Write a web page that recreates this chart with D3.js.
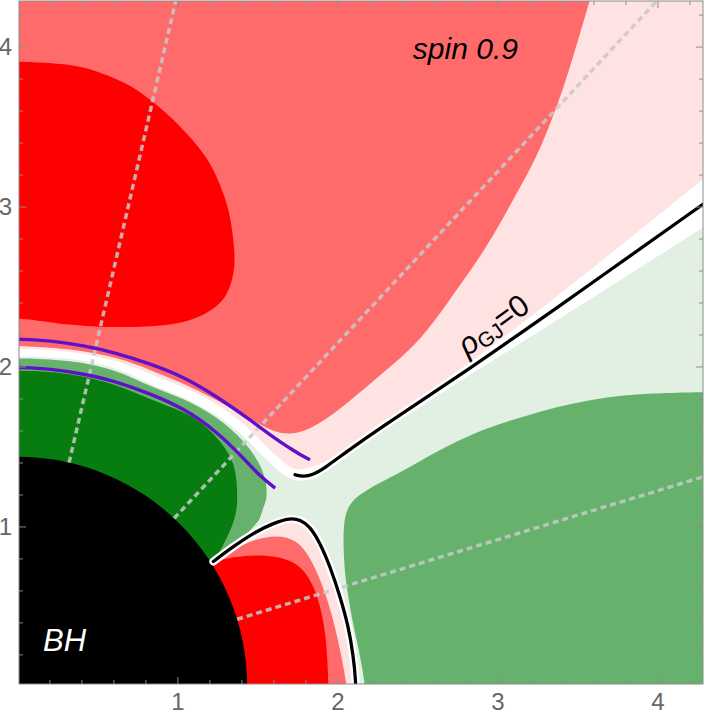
<!DOCTYPE html>
<html lang="en">
<head>
  <meta charset="utf-8">
  <title>rho GJ, spin 0.9</title>
  <script src="https://cdn.jsdelivr.net/npm/d3@7"></script>
  <style>
    * { margin: 0; padding: 0; }
    body { background: #fff; }
    text { font-family: "Liberation Sans", Arial, sans-serif; }
  </style>
</head>
<body>
  <div id="chart"></div>
  <script>
    // plot units: x = r sin(theta), y = r cos(theta)
    var spin = 0.9;
    var horizonR = 1.436;
    var guideAngles = [13, 43, 73];   // dashed radial guides, degrees from the spin axis
    var majorTicks = [1, 2, 3, 4];
    var minorTicks = [0.2, 0.4, 0.6, 0.8, 1.2, 1.4, 1.6, 1.8, 2.2, 2.4, 2.6, 2.8, 3.2, 3.4, 3.6, 3.8, 4.2];

    // outlines
    var redTop = [[-0.1,3.906],[0.0125,3.906],[0.309,3.896],[0.517,3.844],[0.725,3.75],[0.829,3.667],[0.934,3.584],[1.059,3.459],[1.184,3.3125],[1.267,3.146],[1.329,2.959],[1.35,2.792],[1.361,2.667],[1.35,2.5625],[1.309,2.4375],[1.225,2.354],[1.1,2.292],[0.934,2.254],[0.725,2.246],[0.517,2.246],[0.309,2.261],[0.1,2.292],[0.0125,2.298],[-0.1,2.298]];
    var pinkTop = [[3.62,4.45],[3.579,4.292],[3.517,4.086],[3.436,3.811],[3.348,3.561],[3.248,3.311],[3.098,3.042],[2.936,2.748],[2.767,2.511],[2.517,2.15],[2.267,1.948],[2.017,1.729],[1.829,1.604],[1.704,1.573],[1.6,1.59],[1.454,1.673],[1.246,1.792],[1.0375,1.896],[0.829,1.979],[0.621,2.061],[0.309,2.114],[0.0125,2.129],[-0.1,2.13]];
    var whiteTop = [[-0.1,2.111],[0.0125,2.111],[0.309,2.101],[0.621,2.042],[0.829,1.9525],[1.0375,1.875],[1.246,1.771],[1.4125,1.646],[1.517,1.542],[1.621,1.4375],[1.704,1.365],[1.767,1.348],[1.923,1.395],[2.048,1.486],[2.267,1.645],[2.679,1.911],[3.329,2.398],[4.294,3.178],[4.45,3.303]];
    var whiteBottom = [[4.45,2.974],[4.294,2.875],[3.329,2.261],[2.679,1.854],[2.267,1.586],[2.048,1.429],[1.923,1.336],[1.798,1.279],[1.704,1.292],[1.621,1.354],[1.5375,1.4375],[1.454,1.521],[1.371,1.604],[1.246,1.698],[1.0375,1.8125],[0.829,1.886],[0.621,1.998],[0.309,2.0575],[0.0125,2.0625],[-0.1,2.0625]];
    var greenBand = [[-0.1,2.051],[0.0125,2.051],[0.309,2.042],[0.621,1.9825],[0.829,1.873],[1.0375,1.8025],[1.246,1.6875],[1.4125,1.542],[1.517,1.396],[1.559,1.271],[1.559,1.167],[1.5375,1.125],[1.517,1.042],[1.475,1.0],[1.4125,0.929],[1.35,0.879],[1.225,0.775]];
    var darkGreen = [[-0.1,1.975],[0.0125,1.975],[0.309,1.9625],[0.621,1.89],[0.829,1.792],[1.0375,1.719],[1.142,1.656],[1.246,1.5625],[1.35,1.417],[1.371,1.292],[1.376,1.167],[1.367,1.073],[1.329,0.967],[1.279,0.867],[1.225,0.775]];
    var greenRight = [[2.177,-0.1],[2.173,0.021],[2.13,0.25],[2.1,0.375],[2.07,0.55],[2.048,0.6875],[2.038,0.85],[2.0375,1.0],[2.055,1.1],[2.1,1.17],[2.184,1.229],[2.3,1.29],[2.434,1.36],[2.642,1.48],[2.85,1.584],[3.059,1.656],[3.267,1.719],[3.475,1.771],[3.684,1.809],[3.892,1.8275],[4.1,1.8375],[4.45,1.84]];
    var zeroLower = [[1.225,0.781],[1.35,0.875],[1.475,0.959],[1.6,1.021],[1.704,1.053],[1.767,1.042],[1.829,1.0],[1.892,0.896],[1.954,0.75],[2.017,0.5625],[2.069,0.375],[2.1,0.1875],[2.115,0.031],[2.117,-0.1]];
    var pinkPocket = [[1.225,0.781],[1.454,0.917],[1.621,0.948],[1.746,0.917],[1.829,0.8125],[1.9125,0.625],[1.975,0.417],[2.017,0.229],[2.059,0.017],[2.062,-0.1]];
    var redPocket = [[1.225,0.779],[1.35,0.81],[1.496,0.823],[1.621,0.8125],[1.725,0.781],[1.809,0.709],[1.871,0.584],[1.9125,0.417],[1.934,0.25],[1.944,0.017],[1.945,-0.1]];
    var zeroUpper = [[1.7356,1.3231],[1.786,1.311],[1.8419,1.32],[1.9231,1.3669],[2.0481,1.4606],[2.2669,1.6169],[2.6794,1.8856],[3.3294,2.3356],[4.2938,3.0213],[4.45,3.13]];
    var purpleUpper = [[-0.05,2.172],[0.0125,2.171],[0.204,2.1625],[0.4125,2.131],[0.621,2.084],[0.829,2.017],[1.0375,1.9375],[1.246,1.8125],[1.454,1.667],[1.621,1.542],[1.704,1.489],[1.767,1.448],[1.829,1.417]];
    var purpleLower = [[-0.05,1.995],[0.0125,1.994],[0.204,1.986],[0.4125,1.954],[0.621,1.906],[0.829,1.829],[1.0375,1.74],[1.246,1.594],[1.4125,1.4275],[1.517,1.3125],[1.611,1.24]];

    var width = 706, height = 720;
    var x = d3.scaleLinear().domain([0.01, 4.285]).range([19, 703]);
    var y = d3.scaleLinear().domain([0.015, 4.285]).range([684, 1]);

    var svg = d3.select("#chart").append("svg")
        .attr("width", width)
        .attr("height", height);

    svg.append("clipPath").attr("id", "plot-clip")
      .append("rect")
        .attr("x", x(0.01)).attr("y", y(4.285))
        .attr("width", x(4.285) - x(0.01)).attr("height", y(0.015) - y(4.285));

    var plot = svg.append("g").attr("clip-path", "url(#plot-clip)");

    var smooth = d3.line()
        .x(function(d) { return x(d[0]); })
        .y(function(d) { return y(d[1]); })
        .curve(d3.curveBasis);

    // smooth outline, then straight runs through corners outside the frame / inside the hole
    function region(outline, corners) {
      var p = smooth(outline);
      corners.forEach(function(c) { p += "L" + x(c[0]) + "," + y(c[1]); });
      return p + "Z";
    }

    plot.append("rect")
        .attr("x", 0).attr("y", 0).attr("width", width).attr("height", height)
        .attr("fill", "#e1f0e2");

    plot.append("path").attr("d", region(whiteTop, [[4.45, 4.45], [-0.1, 4.45]])).attr("fill", "#ffe2e2");
    plot.append("path").attr("d", smooth(whiteTop) + smooth(whiteBottom).replace("M", "L") + "Z").attr("fill", "#ffffff");
    plot.append("path").attr("d", region(pinkTop, [[-0.1, 4.45]])).attr("fill", "#ff6b6b");
    plot.append("path").attr("d", region(redTop, [])).attr("fill", "#ff0000");
    plot.append("path").attr("d", region(greenBand, [[0, 0], [-0.1, 0]])).attr("fill", "#66b26c");
    plot.append("path").attr("d", region(darkGreen, [[0, 0], [-0.1, 0]])).attr("fill", "#077d0f");
    plot.append("path").attr("d", region(greenRight, [[4.45, -0.1]])).attr("fill", "#66b26c");
    plot.append("path").attr("d", region(zeroLower, [[0, -0.1]])).attr("fill", "#ffe2e2");
    plot.append("path").attr("d", region(pinkPocket, [[0, -0.1]])).attr("fill", "#ff6b6b");
    plot.append("path").attr("d", region(redPocket, [[0, -0.1]])).attr("fill", "#ff0000");

    // horizon
    plot.append("circle")
        .attr("cx", x(0)).attr("cy", y(0))
        .attr("r", x(horizonR) - x(0))
        .attr("fill", "#000");

    // radial guides
    plot.selectAll("line.guide")
      .data(guideAngles)
      .enter().append("line")
        .attr("class", "guide")
        .attr("x1", function(a) { return x(horizonR * Math.sin(a * Math.PI / 180)); })
        .attr("y1", function(a) { return y(horizonR * Math.cos(a * Math.PI / 180)); })
        .attr("x2", function(a) { return x(7 * Math.sin(a * Math.PI / 180)); })
        .attr("y2", function(a) { return y(7 * Math.cos(a * Math.PI / 180)); })
        .attr("stroke", "#c8c8c8")
        .attr("stroke-opacity", 0.85)
        .attr("stroke-width", 3.5)
        .attr("stroke-dasharray", "6,4");

    [purpleUpper, purpleLower].forEach(function(c) {
      plot.append("path").attr("d", smooth(c))
          .attr("fill", "none").attr("stroke", "#5f10c8").attr("stroke-width", 3.4);
    });

    [zeroUpper, zeroLower].forEach(function(c) {
      plot.append("path").attr("d", smooth(c))
          .attr("fill", "none").attr("stroke", "#fff").attr("stroke-width", 8).attr("stroke-linecap", "round");
      plot.append("path").attr("d", smooth(c))
          .attr("fill", "none").attr("stroke", "#000").attr("stroke-width", 3.3).attr("stroke-linecap", "round");
    });

    // labels
    svg.append("text")
        .attr("x", x(2.80)).attr("y", y(3.92))
        .attr("text-anchor", "middle")
        .attr("font-size", 30).attr("font-style", "italic")
        .text("spin " + spin);

    svg.append("text")
        .attr("x", x(0.16)).attr("y", y(0.221))
        .attr("font-size", 31).attr("font-style", "italic").attr("fill", "#fff")
        .text("BH");

    var rho = svg.append("text")
        .attr("transform", "translate(" + x(2.81) + "," + y(2.06) + ") rotate(-36)")
        .attr("font-size", 31);
    rho.append("tspan").attr("font-style", "italic").text("ρ");
    rho.append("tspan").attr("font-size", 21).attr("dy", 4).text("GJ");
    rho.append("tspan").attr("dy", -4).text("=0");

    // frame with inward ticks on all sides
    function styleAxis(g) {
      g.select(".domain").remove();
      g.selectAll("line").attr("stroke", "#8c8c8c");
      g.selectAll("text").attr("fill", "#666").attr("font-size", 24)
          .attr("font-family", "'Liberation Sans', Arial, sans-serif");
    }
    var axes = [
      [d3.axisBottom(x), "translate(0," + y(0.015) + ")", true, 9],
      [d3.axisLeft(y), "translate(" + x(0.01) + ",0)", true, 7],
      [d3.axisTop(x), "translate(0," + y(4.285) + ")", false, 7],
      [d3.axisRight(y), "translate(" + x(4.285) + ",0)", false, 7]
    ];
    axes.forEach(function(a) {
      svg.append("g").attr("transform", a[1])
          .call(a[0].tickValues(minorTicks).tickSize(-4).tickFormat(""))
          .call(styleAxis);
      svg.append("g").attr("transform", a[1])
          .call(a[0].tickValues(majorTicks).tickSize(-7).tickPadding(a[3])
              .tickFormat(a[2] ? d3.format("d") : ""))
          .call(styleAxis);
    });

    svg.append("rect")
        .attr("x", x(0.01)).attr("y", y(4.285))
        .attr("width", x(4.285) - x(0.01)).attr("height", y(0.015) - y(4.285))
        .attr("fill", "none").attr("stroke", "#8c8c8c").attr("stroke-width", 1);
  </script>
</body>
</html>
